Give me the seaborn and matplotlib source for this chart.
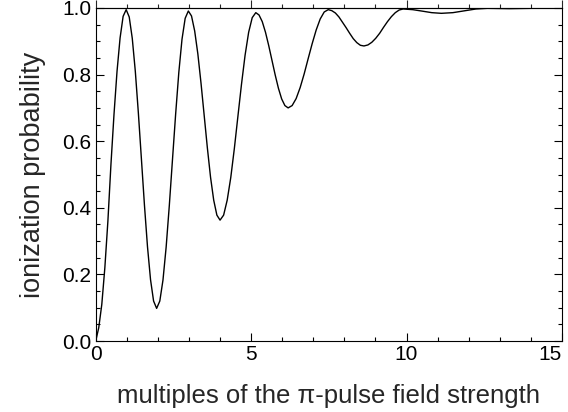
import matplotlib
matplotlib.use("Agg")
import matplotlib.pyplot as plt
import seaborn as sns
import pandas as pd
from matplotlib.ticker import MultipleLocator, FormatStrFormatter

# multiples of the pi-pulse field strength
field_strength = [
    0, .098, .196, .294, .392, .49, .588, .686, .784, .882, .98,
    1.078, 1.176, 1.274, 1.372, 1.47, 1.568, 1.666, 1.764, 1.862, 1.96,
    2.062, 2.164, 2.266, 2.368, 2.47, 2.572, 2.674, 2.776, 2.878, 2.98,
    3.082, 3.184, 3.286, 3.388, 3.49, 3.592, 3.694, 3.796, 3.898, 4.0,
    4.115, 4.23, 4.345, 4.46, 4.575, 4.69, 4.805, 4.92, 5.035, 5.15,
    5.254, 5.358, 5.462, 5.566, 5.67, 5.774, 5.878, 5.982, 6.086, 6.19,
    6.319, 6.448, 6.577, 6.706, 6.835, 6.964, 7.093, 7.222, 7.351, 7.48,
    7.595, 7.71, 7.825, 7.94, 8.055, 8.17, 8.285, 8.40, 8.515, 8.63,
    8.756, 8.882, 9.008, 9.134, 9.26, 9.386, 9.512, 9.638, 9.764, 9.89,
    10.20, 10.51, 10.81, 11.12,
    11.49, 11.86, 12.23, 12.6,
    13.3, 14.0, 14.6, 15.0,
]

# ionization probability
ionization_prob = [
    0, .04, .11, .22, .36, .53, .68, .81, .91, .975, .995,
    .973, .909, .810, .685, .547, .408, .283, .184, .120, .098,
    .120, .183, .282, .407, .545, .682, .807, .906, .969, .991,
    .976, .931, .862, .774, .677, .580, .492, .423, .378, .363,
    .378, .423, .491, .578, .675, .771, .858, .927, .971, .986,
    .979, .959, .927, .887, .843, .799, .759, .727, .707, .700,
    .707, .728, .761, .802, .848, .893, .934, .967, .988, .995,
    .992, .985, .973, .957, .941, .924, .908, .896, .888, .886,
    .889, .897, .909, .924, .942, .959, .974, .986, .994, .997,
    .995, .9905, .986, .984,
    .986, .9915, .997, .999,
    .998, .999, .9995, .9995,
]

x_ticks = [0, 5, 10, 15]
x_label = "multiples of the \u03c0-pulse field strength"
y_label = "ionization probability"

sns.set_style("ticks")
plt.rcParams["font.family"] = ["Liberation Sans", "DejaVu Sans"]

df = pd.DataFrame({"field": field_strength, "prob": ionization_prob})

fig = plt.figure(figsize=(5.68, 4.12), dpi=100)
ax = fig.add_axes([0.1685, 0.1723, 0.8209, 0.8083])

sns.lineplot(data=df, x="field", y="prob", ax=ax, color="black",
             linewidth=1.0, estimator=None, sort=False)

ax.set_xlim(0, 15)
ax.set_ylim(0, 1)
ax.set_xticks(x_ticks)
ax.set_xticklabels([str(t) for t in x_ticks])
ax.xaxis.set_minor_locator(MultipleLocator(1))
ax.yaxis.set_major_locator(MultipleLocator(0.2))
ax.yaxis.set_minor_locator(MultipleLocator(0.05))
ax.yaxis.set_major_formatter(FormatStrFormatter("%.1f"))

ax.tick_params(which="both", direction="in", top=False, right=True,
               colors="black", labelsize=15, width=0.8)
ax.tick_params(which="major", length=6)
ax.tick_params(which="minor", length=3)
ax.tick_params(axis="x", pad=3)
ax.tick_params(axis="y", pad=3)

# keep the last x tick label inside the picture
ax.get_xticklabels()[-1].set_horizontalalignment("right")

for s in ax.spines.values():
    s.set_color("black")
    s.set_linewidth(0.8)

sec = ax.secondary_xaxis("top")
sec.xaxis.set_major_locator(MultipleLocator(5))
sec.xaxis.set_minor_locator(MultipleLocator(1))
sec.tick_params(which="both", direction="out", labeltop=False, width=0.8)
sec.tick_params(which="major", length=6)
sec.tick_params(which="minor", length=3)
sec.spines["top"].set_linewidth(0.8)

ax.set_xlabel(x_label, fontsize=18.5, labelpad=14)
ax.set_ylabel(y_label, fontsize=19.5, labelpad=12)

fig.savefig("out.png", dpi=100)
